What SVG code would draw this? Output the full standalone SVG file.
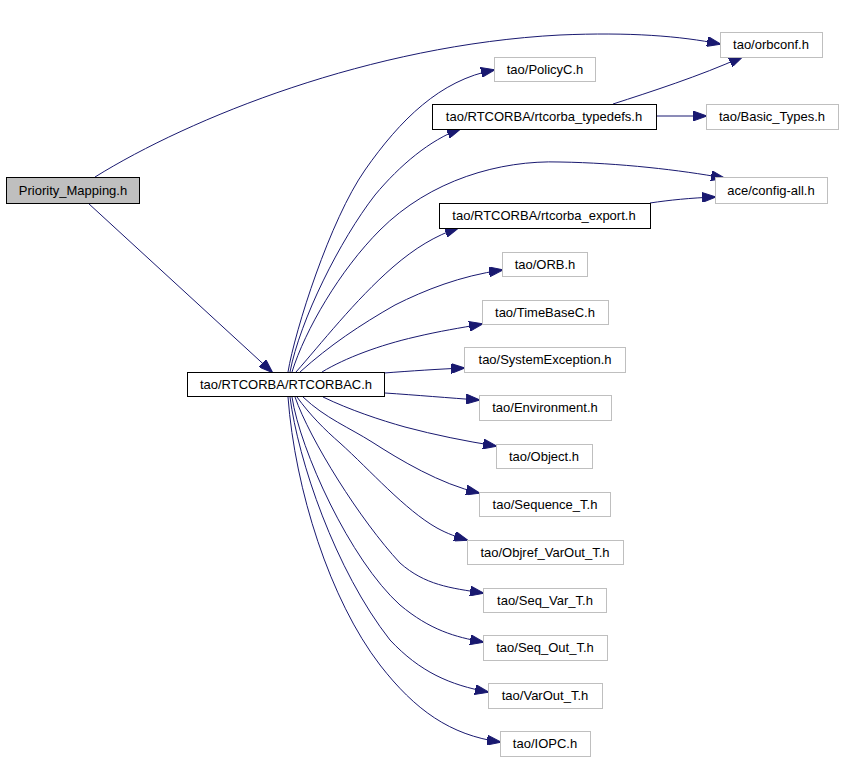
<svg xmlns="http://www.w3.org/2000/svg" width="843" height="760" viewBox="0 0 843 760">
<style>
.n rect{fill:#fff;stroke:#bfbfbf;stroke-width:1}
.n.b rect{stroke:#000}
.n.g rect{fill:#bfbfbf;stroke:#000}
.n text{font-family:"Liberation Sans",Arial,sans-serif;font-size:13px;fill:#000;text-anchor:middle}
#edges path{fill:none;stroke:#191970;stroke-width:1;marker-end:url(#arr)}
</style>
<defs>
<marker id="arr" markerUnits="userSpaceOnUse" markerWidth="14" markerHeight="10" viewBox="0 0 14 10" refX="13" refY="5" orient="auto">
<path d="M0,0 L14,5 L0,10 z" fill="#191970" stroke="#191970"/>
</marker>
</defs>
<rect width="843" height="760" fill="#fff"/>
<g id="edges">
<path d="M95,177 C 190,118 370,45 560,35 C 630,32 680,36 720,44"/>
<path d="M88,203 L272,372"/>
<path d="M288,372 C 295,330 330,220 365,170 C 400,120 440,80 494,70"/>
<path d="M290,372 C 300,320 340,240 375,195 C 400,165 430,140 460,129"/>
<path d="M292,372 C 305,330 340,270 380,230 C 430,180 500,160 560,162 C 620,163 680,170 724,178"/>
<path d="M613,104 C 650,92 700,76 742,57"/>
<path d="M656,116 L706,116"/>
<path d="M650,203 C 670,200 690,198 715,197"/>
<path d="M296,372 C 320,345 355,300 393,267 C 415,248 435,236 458,228"/>
<path d="M300,372 C 330,345 360,325 395,305 C 425,290 460,276 502,270"/>
<path d="M322,372 C 345,358 380,345 415,337 C 440,331 460,328 482,324"/>
<path d="M384,373 C 410,371 440,369 464,368"/>
<path d="M385,393 C 415,395 450,398 479,400"/>
<path d="M323,397 C 350,410 380,420 405,427 C 435,435 465,441 496,446"/>
<path d="M303,397 C 325,418 350,428 372,442 C 400,460 440,484 479,493"/>
<path d="M297,397 C 310,415 325,430 340,443 C 370,470 405,510 437,528 C 448,534 457,537 467,540"/>
<path d="M295,397 C 310,440 360,520 400,563 C 425,585 450,588 483,593"/>
<path d="M292,397 C 300,450 350,560 400,605 C 430,630 455,637 483,642"/>
<path d="M290,397 C 298,460 335,570 390,640 C 420,672 450,685 488,692"/>
<path d="M288,397 C 295,490 330,600 380,665 C 415,710 450,735 500,742"/>
</g>
<g id="n-priority" class="n g"><rect x="6.5" y="177.5" width="133" height="26"/><text x="73" y="195">Priority_Mapping.h</text></g>
<g id="n-orbconf" class="n"><rect x="720.5" y="32.5" width="102" height="25"/><text x="771" y="49">tao/orbconf.h</text></g>
<g id="n-policyc" class="n"><rect x="494.5" y="57.5" width="101" height="24"/><text x="545" y="74">tao/PolicyC.h</text></g>
<g id="n-typedefs" class="n b"><rect x="432.5" y="104.5" width="224" height="25"/><text x="544" y="121">tao/RTCORBA/rtcorba_typedefs.h</text></g>
<g id="n-basic" class="n"><rect x="706.5" y="104.5" width="132" height="25"/><text x="772" y="121">tao/Basic_Types.h</text></g>
<g id="n-config" class="n"><rect x="715.5" y="177.5" width="112" height="26"/><text x="771" y="195">ace/config-all.h</text></g>
<g id="n-export" class="n b"><rect x="439.5" y="203.5" width="211" height="25"/><text x="544" y="220">tao/RTCORBA/rtcorba_export.h</text></g>
<g id="n-orb" class="n"><rect x="502.5" y="252.5" width="85" height="24"/><text x="545" y="269">tao/ORB.h</text></g>
<g id="n-timebase" class="n"><rect x="482.5" y="300.5" width="126" height="24"/><text x="545" y="317">tao/TimeBaseC.h</text></g>
<g id="n-sysexc" class="n"><rect x="464.5" y="347.5" width="161" height="25"/><text x="545" y="364">tao/SystemException.h</text></g>
<g id="n-rtcorbac" class="n b"><rect x="187.5" y="372.5" width="197" height="24"/><text x="286" y="389">tao/RTCORBA/RTCORBAC.h</text></g>
<g id="n-env" class="n"><rect x="479.5" y="395.5" width="132" height="25"/><text x="545" y="412">tao/Environment.h</text></g>
<g id="n-object" class="n"><rect x="496.5" y="444.5" width="96" height="24"/><text x="544" y="461">tao/Object.h</text></g>
<g id="n-seqt" class="n"><rect x="479.5" y="492.5" width="131" height="24"/><text x="545" y="509">tao/Sequence_T.h</text></g>
<g id="n-objref" class="n"><rect x="467.5" y="540.5" width="156" height="24"/><text x="545" y="557">tao/Objref_VarOut_T.h</text></g>
<g id="n-seqvar" class="n"><rect x="483.5" y="588.5" width="123" height="24"/><text x="545" y="605">tao/Seq_Var_T.h</text></g>
<g id="n-seqout" class="n"><rect x="483.5" y="635.5" width="124" height="25"/><text x="545" y="652">tao/Seq_Out_T.h</text></g>
<g id="n-varout" class="n"><rect x="488.5" y="683.5" width="114" height="25"/><text x="545" y="700">tao/VarOut_T.h</text></g>
<g id="n-iopc" class="n"><rect x="500.5" y="731.5" width="90" height="25"/><text x="545" y="748">tao/IOPC.h</text></g>
</svg>
